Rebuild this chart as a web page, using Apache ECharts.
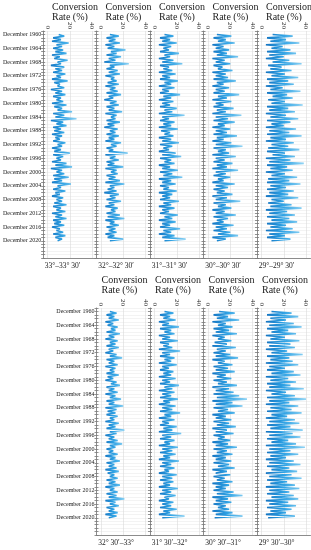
<!DOCTYPE html>
<html><head><meta charset="utf-8">
<script src="https://cdn.jsdelivr.net/npm/echarts@6/dist/echarts.min.js"></script>
<style>html,body{margin:0;padding:0;background:#fff}#c{width:311px;height:550px}</style>
</head><body><div id="c"></div>
<script>
// Tick labels (years, December) and x ticks
const labelYears = [1960,1964,1968,1972,1976,1980,1984,1988,1992,1996,2000,2004,2008,2012,2016,2020];
const xTicks = [0,20,40];
const axisTitle = 'Conversion\nRate (%)';
// Region names
const regionsTop = ['33°–33° 30′','32°–32° 30′','31°–31° 30′','30°–30° 30′','29°–29° 30′'];
const regionsBottom = ['32° 30′–33°','31° 30′–32°','30° 30′–31°','29° 30′–30°'];
// Half-yearly samples starting December 1960 (conversion rate %)
const p33_00 = [10,15,5,12,4,19,8,13,5,14, 7,17,4,11,6,18,9,12,3,15, 7,13,5,16,8,12,4,18,6,11, 9,15,3,13,7,16,5,12,8,14,
  4,17,6,13,9,22,5,15,7,26, 3,14,8,17,5,12,6,15,4,13, 7,11,5,16,9,13,4,12,6,20, 5,14,8,12,4,17,7,22,3,13,
  8,15,5,19,6,13,4,21,9,12, 5,16,7,11,4,14,8,13,6,17, 5,12,8,16,4,13,7,17,5,12, 6,15,4,11,8,14,5,16,7,13, 9];
const p32_00 = [8,16,5,13,7,17,4,12,6,22, 9,14,5,18,7,13,3,25,8,12, 5,15,7,17,4,12,9,14,6,16, 4,13,8,15,5,18,7,11,3,14,
  8,16,5,12,7,19,4,14,9,13, 5,17,6,12,3,15,8,13,5,16, 7,12,4,18,9,14,5,11,7,24, 4,13,8,16,5,12,6,20,4,14,
  9,15,5,13,7,17,4,21,8,12, 6,14,3,16,8,13,5,18,7,12, 4,15,9,13,5,17,6,21,4,12, 8,16,5,13,7,14,4,12,6,20, 8];
const p31_00 = [9,17,5,14,7,20,4,15,8,13, 5,22,9,14,4,17,7,25,5,13, 8,16,4,19,7,14,5,21,9,15, 4,18,7,13,5,23,8,15,4,17,
  7,14,5,20,9,16,4,27,7,13, 5,18,8,15,4,21,6,14,9,17, 4,15,7,22,5,16,8,13,4,19, 7,24,5,15,9,18,4,14,7,21,
  5,16,8,25,4,15,7,19,5,13, 8,20,4,16,7,14,5,22,8,15, 4,18,7,13,5,21,9,16,4,19, 7,14,5,23,8,15,4,18,7,28, 9];
const p30_00 = [8,21,5,16,9,24,4,14,7,19, 5,17,8,27,4,15,7,20,5,13, 9,22,4,16,7,18,5,25,8,14, 4,19,7,15,5,28,9,17,4,21,
  7,14,5,23,8,16,4,30,7,18, 5,24,9,15,4,20,7,17,5,26, 8,14,4,21,7,31,5,16,9,19, 4,25,7,15,5,22,8,17,4,27,
  7,16,5,20,9,14,4,24,7,18, 5,15,8,22,4,17,7,29,5,16, 9,21,4,15,7,25,5,18,8,14, 4,23,7,17,5,20,9,27,4,16, 8];
const p29_00 = [10,28,5,22,8,34,4,19,9,26, 5,31,7,20,4,25,10,36,6,18, 8,27,4,21,9,33,5,24,7,29, 4,19,8,35,5,23,10,28,6,21,
  9,37,5,24,7,30,4,22,8,33, 5,26,9,20,4,31,7,25,5,36, 8,22,4,29,9,24,6,34,5,21, 10,30,4,26,7,38,5,23,8,28,
  4,21,9,32,6,25,5,35,8,22, 5,29,7,24,4,33,9,20,6,27, 8,36,4,23,7,30,5,25,9,32, 5,22,8,28,4,34,7,21,5,26, 9];
const p32_30 = [8,14,5,12,7,16,4,11,6,15, 9,13,5,17,7,12,4,15,8,13, 5,16,7,11,4,14,8,19,5,12, 7,15,4,13,8,12,5,16,6,11,
  4,14,9,17,5,12,7,15,4,13, 8,18,5,12,7,20,4,14,6,13, 5,15,8,12,4,16,7,13,5,21, 8,14,4,12,7,15,5,19,8,13,
  5,11,7,15,4,13,8,17,5,12, 7,14,4,16,6,12,8,15,5,13, 7,17,4,12,8,15,5,14,7,21, 4,13,8,16,5,12,7,15,4,14, 7];
const p31_30 = [9,17,5,14,8,19,4,13,7,22, 5,15,9,18,4,14,7,21,5,13, 8,16,4,23,7,14,5,18,9,15, 4,20,7,13,5,17,8,15,4,19,
  7,14,5,22,9,16,4,18,7,15, 5,21,8,14,4,19,7,16,5,23, 9,15,4,18,7,13,5,20,8,16, 4,24,7,15,5,18,9,14,4,21,
  7,16,5,19,8,14,4,22,7,15, 5,18,9,13,4,20,7,16,5,17, 8,14,4,21,7,15,5,19,9,13, 4,17,7,15,5,20,8,14,4,27, 7];
const p30_30 = [10,24,5,18,8,28,4,16,9,22, 5,19,7,26,4,15,9,21,6,17, 4,25,8,16,5,20,7,27,4,15, 9,22,5,18,7,24,4,16,8,21,
  5,17,9,26,4,19,7,23,5,28, 8,35,4,22,7,31,5,18,9,24, 4,16,7,21,5,19,8,25,4,17, 7,23,5,15,9,20,4,18,7,26,
  5,17,8,22,4,16,7,21,5,19, 9,24,4,17,7,20,5,15,8,22, 4,19,7,16,5,23,8,31,4,18, 7,21,5,16,9,19,4,22,7,31, 6];
const p29_30 = [9,27,5,33,8,22,4,29,7,36, 5,24,9,31,4,21,8,34,5,26, 7,30,4,23,9,37,5,25,8,28, 4,33,7,21,5,29,9,35,4,24,
  8,31,5,26,7,38,4,22,9,30, 5,40,7,25,4,33,8,27,5,36, 9,23,4,30,7,34,5,26,8,37, 4,28,7,35,5,24,9,31,4,39,
  7,26,5,33,8,22,4,29,7,35, 5,25,9,32,4,27,7,36,5,23, 8,30,4,34,7,25,5,29,9,33, 4,24,7,31,5,27,8,22,4,30, 6];

const topSeries = [p33_00, p32_00, p31_00, p30_00, p29_00];
const bottomSeries = [p32_30, p31_30, p30_30, p29_30];

// layout
const FONT = '"Liberation Serif", "Times New Roman", serif';
const lefts = [43, 96.5, 150, 203.5, 257];
const W = 53.5;
const rows = [
  {top: 31, height: 227, cols: [0,1,2,3,4], data: topSeries, names: regionsTop, titleTop: 2, nameTop: 262, titleOff: 9},
  {top: 308, height: 227, cols: [1,2,3,4], data: bottomSeries, names: regionsBottom, titleTop: 275, nameTop: 539, titleOff: 5}
];

const grid = [], xAxis = [], yAxis = [], series = [], graphic = [];
let g = 0;
rows.forEach(row => {
  row.cols.forEach((c, k) => {
    const left = lefts[c];
    grid.push({left: left, top: row.top, width: W, height: row.height, containLabel: false});
    xAxis.push({gridIndex: g, type: 'value', position: 'top', min: -4, max: 44,
      axisLine: {show: false}, axisTick: {show: false, customValues: xTicks},
      axisLabel: {customValues: xTicks, rotate: -90, fontSize: 7, margin: 2, fontFamily: FONT, color: '#222'},
      splitLine: {show: true, lineStyle: {color: '#dadada', width: 0.6}}});
    xAxis.push({gridIndex: g, type: 'value', position: 'bottom', min: -4, max: 44,
      axisLine: {show: true, onZero: false, lineStyle: {color: '#8c8c8c', width: 1}},
      axisTick: {show: false}, axisLabel: {show: false}, splitLine: {show: false}});
    yAxis.push({gridIndex: g, type: 'value', inverse: true, min: -12, max: 780, interval: 12, position: 'left',
      axisLine: {show: true, onZero: false, lineStyle: {color: '#8c8c8c', width: 1}},
      axisTick: {show: true, length: 2, lineStyle: {color: '#777', width: 0.8}},
      axisLabel: {show: k === 0, fontSize: 6, margin: 2, fontFamily: FONT, color: '#222',
        formatter: v => (v >= 0 && v <= 720 && v % 48 === 0 && labelYears.indexOf(1960 + v / 12) >= 0) ? 'December ' + (1960 + v / 12) : ''},
      splitLine: {show: true, lineStyle: {color: '#ebebeb', width: 0.6}}});
    yAxis.push({gridIndex: g, type: 'value', inverse: true, min: -12, max: 780, interval: 12, position: 'left',
      axisLine: {show: false, onZero: false}, axisTick: {show: true, inside: true, length: 2, lineStyle: {color: '#777', width: 0.8}},
      axisLabel: {show: false}, splitLine: {show: false}});
    const vals = row.data[k];
    series.push({type: 'line', xAxisIndex: 2 * g, yAxisIndex: 2 * g, showSymbol: false, animation: false,
      data: vals.map((v, i) => [v, i * 6]),
      lineStyle: {width: 1.6, color: new echarts.graphic.LinearGradient(0, 0, 1, 0, [
        {offset: 0, color: '#0f6dbd'}, {offset: 0.45, color: '#2fa2e4'}, {offset: 1, color: '#a0dbf6'}])}});
    graphic.push({type: 'text', left: left + row.titleOff, top: row.titleTop,
      style: {text: axisTitle, font: '10px ' + FONT, fill: '#222', lineHeight: 10}});
    graphic.push({type: 'text', left: left + W / 2 - 8 - 17, top: row.nameTop,
      style: {text: row.names[k], font: '7.5px ' + FONT, fill: '#222'}});
    g++;
  });
});

const chart = echarts.init(document.getElementById('c'), null, {renderer: 'canvas'});
chart.setOption({animation: false, backgroundColor: '#fff', grid, xAxis, yAxis, series, graphic});
</script></body></html>
